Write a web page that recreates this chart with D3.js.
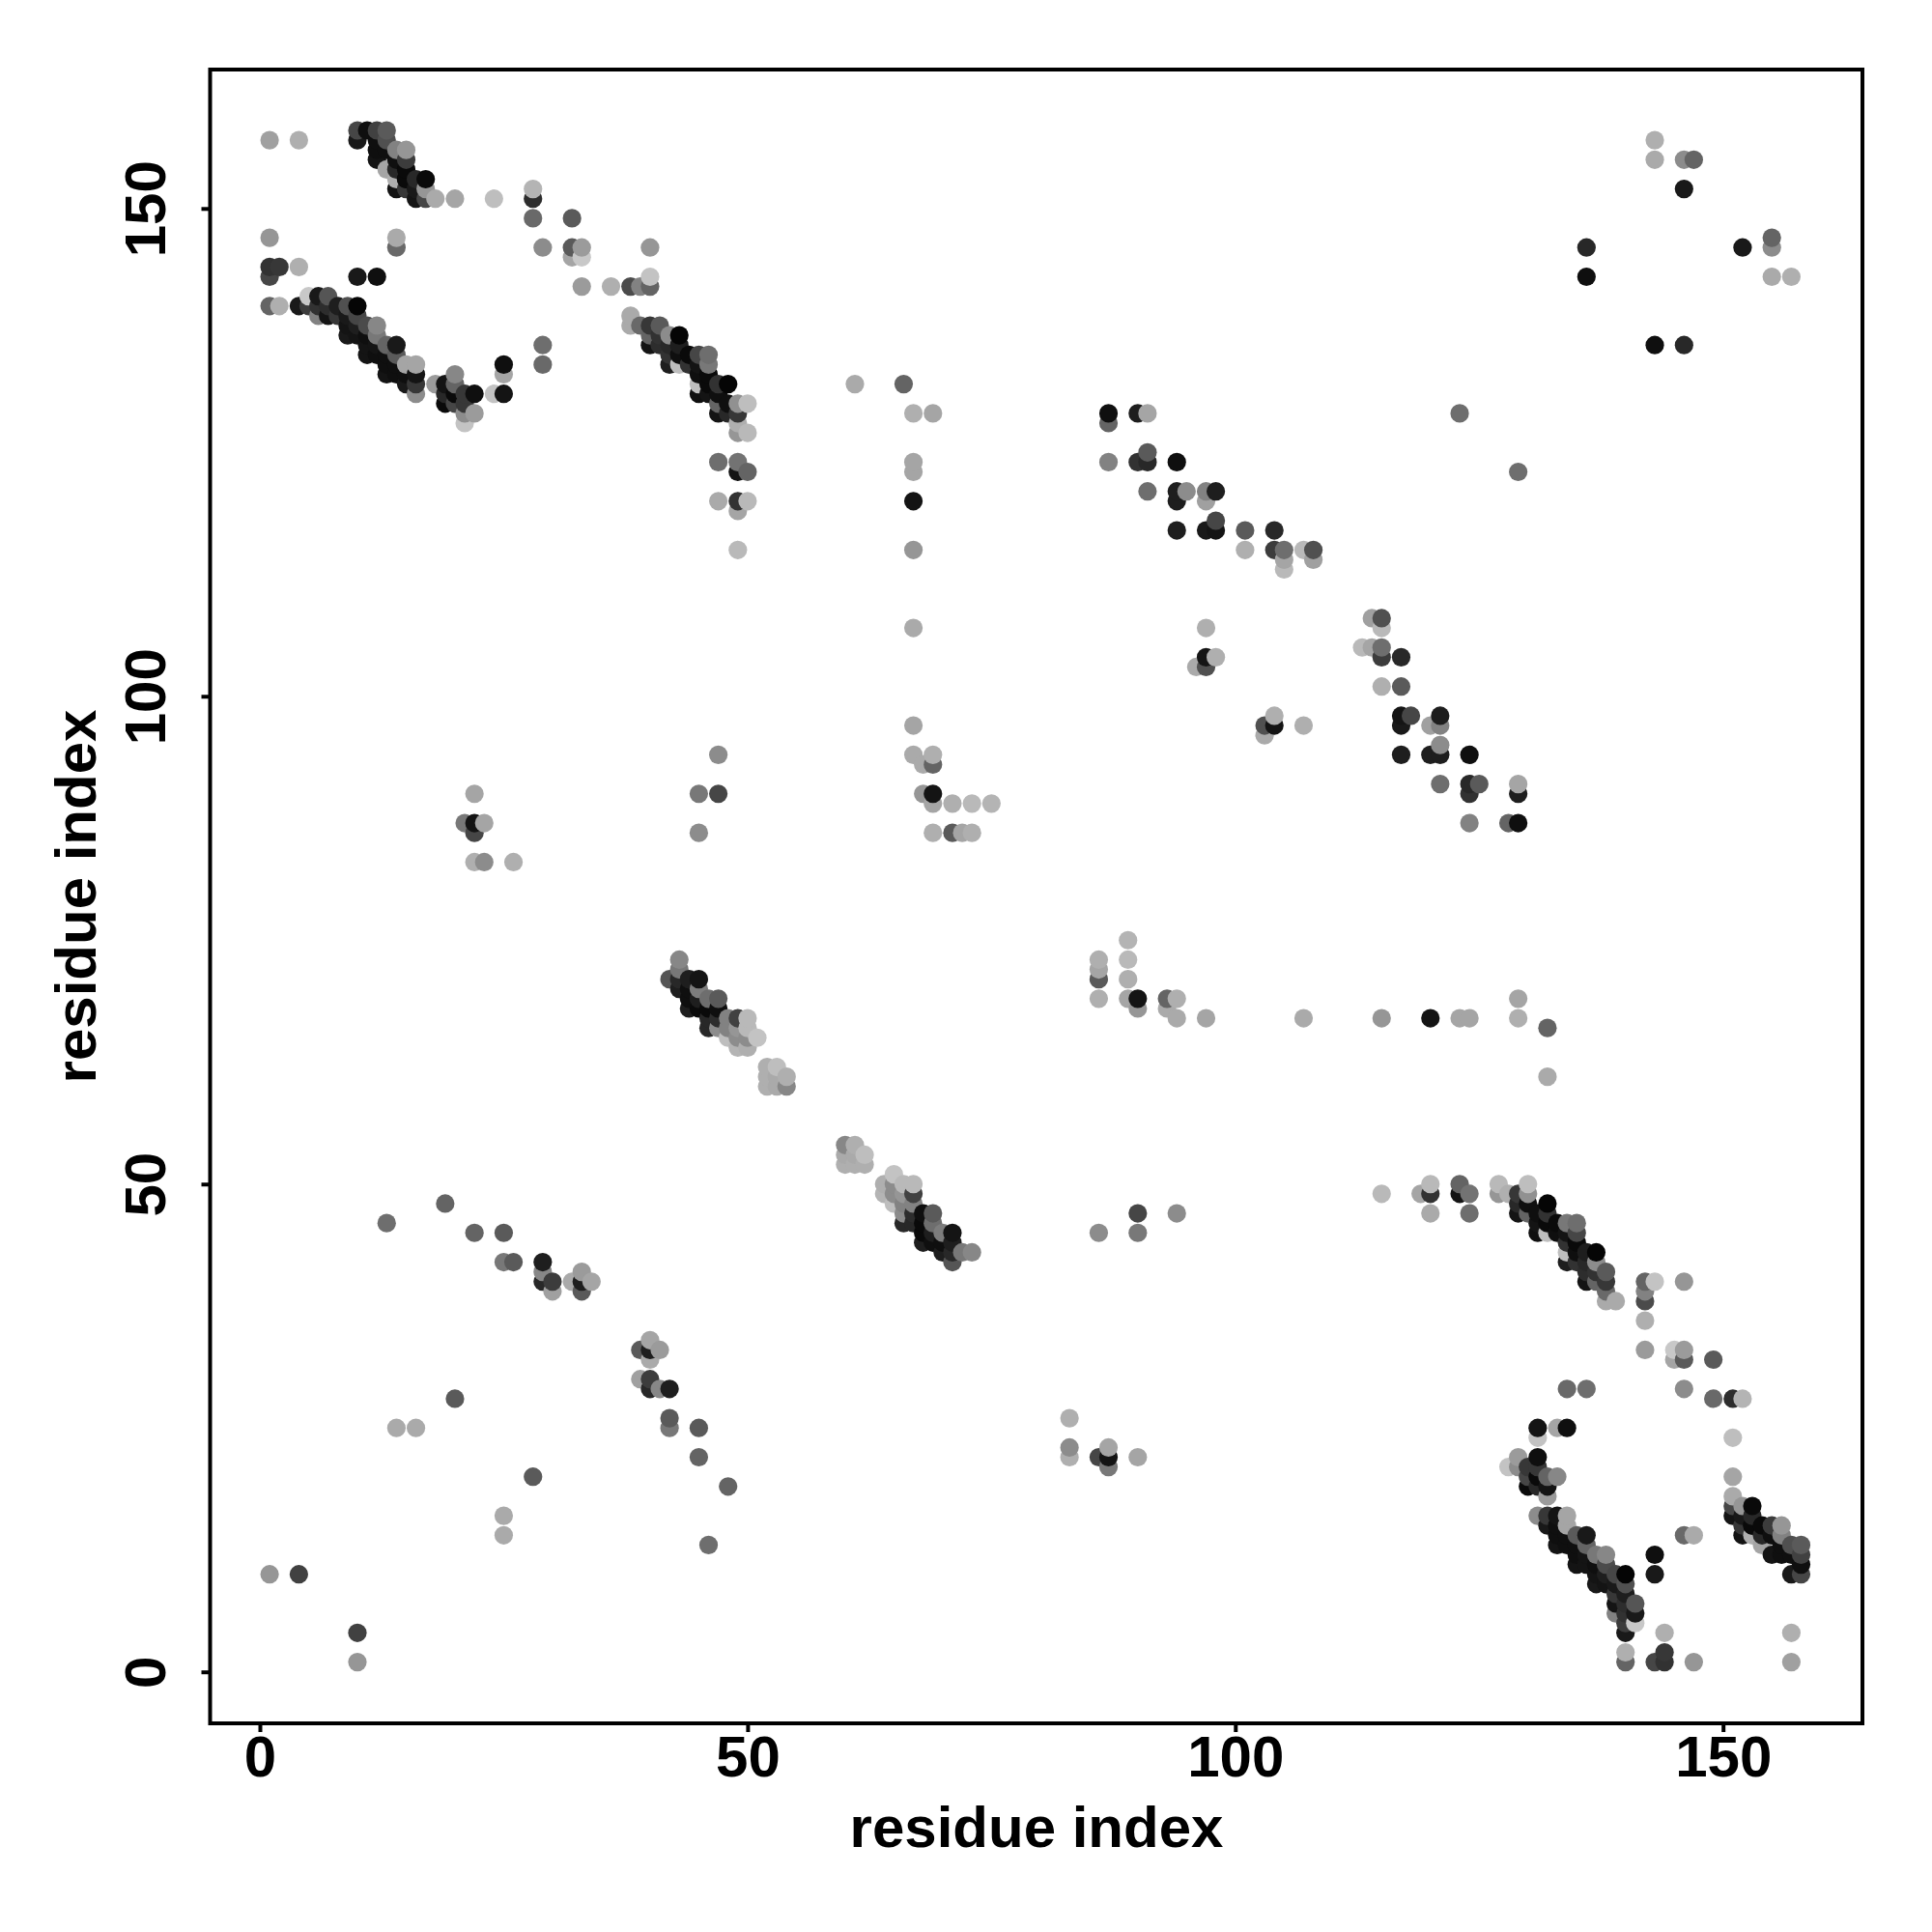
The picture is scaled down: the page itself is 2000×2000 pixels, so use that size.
<!DOCTYPE html>
<html><head><meta charset="utf-8">
<script src="https://cdn.jsdelivr.net/npm/d3@7"></script>
<style>html,body{margin:0;padding:0;background:#fff}svg{display:block}</style>
</head><body><div id="chart"></div>
<script>
const tickLabels = [0, 50, 100, 150];
const axisTitle = "residue index";
const contactI = [
1,1,1,1,1,1, 2,2, 4,4,4,4, 5,5, 6,6,6, 7,7,7, 8,8, 9,9,9,9, 10,10,10,10, 11,11,11,11, 12,12,12,12, 13,13,13,13, 14,14,14,14, 15,15,15, 16,16,16,16, 18,19,19,19, 20,20,20,20, 21,21,21,21, 22,22, 24,25,25,25,
10,10,11,12,13,12,12,12,13,13,13,14,15,14,15,14,15,14,14,15,15,15,16,17,17,16,16,17,18,20,24,28,28,28,32,
29,32,32,33,33,33,36,38,39,40,40,40,14,14,29,29,10,12,
38,38,39,40,40,40,41,41,41,42,42,43,42,42,43,43,43,44,44,45,46,46,45,45,45,45,46,46,46,47,48,47,47,47,48,48,49,50,49,49,49,50,47,49,49,50,47,49,50,49,49,
61,66,67,69,67,67,67,67,67,67,67,69,68,69,68,69,69,71,73,75,69,71,72,73,
45,47,47,45,21,22,22,22,23,22,23,26,
42,43,43,43,43,44,44,44,44,45,45,45,45,46,46,46,46,47,47,47,47,48,48,48,49,49,49,49,50,50,50,50,51,
52,53,52,53,54,52,53,54,
13,19,22,25,25,26,29,29,29,30,30,32,33,33,33,34,14,16,20,
87,87,90,91,87,90,91,91,94,91,94,95,94,94,97,97,98,98,97,98,101,104,101,104,105,105,105,107,108,108,123,
97,96,97,97,98,
136,136,143,143,146,147,146];
const contactJ = [
157,147,144,143,140,10, 144,140, 157,144,140,10, 141,140, 141,140,139, 141,140,139, 140,139, 140,139,138,137, 140,139,138,137, 138,137,136,135, 138,137,136,135, 136,135,134,133, 136,135,134,133, 134,133,132, 134,133,132,131, 132,132,131,130, 133,132,131,130, 131,130,129,128, 131,129, 131,134,133,131,
158,157,158,158,158,157,156,155,157,156,154,156,156,155,155,154,154,153,152,153,152,153,153,153,152,152,151,151,151,151,151,152,151,149,149,
146,146,145,146,145,142,142,142,142,142,143,146,147,146,136,134,143,143,
139,138,138,138,137,136,138,137,136,137,136,137,135,134,136,135,134,135,134,135,135,134,134,133,132,131,133,132,131,132,132,131,130,129,130,129,130,130,129,128,127,127,124,124,123,123,120,120,120,119,115,
132,132,129,129,124,123,120,115,107,97,94,94,93,93,90,90,89,89,89,89,86,86,86,86,
90,90,94,86,87,90,87,86,87,83,83,83,
71,73,72,71,70,71,70,69,68,71,70,69,68,69,68,67,66,69,68,67,66,67,66,65,67,66,65,64,67,66,65,64,65,
62,62,61,61,61,60,60,60,
46,48,45,45,42,42,42,41,40,40,39,40,40,41,39,40,25,25,28,
129,128,129,129,124,124,124,125,124,121,121,121,120,117,121,120,121,118,117,117,117,117,115,115,115,114,113,115,115,114,129,
107,103,103,104,104,
146,143,155,157,155,155,152];
const contactGray = [
160,150,50,70,100,150, 55,175, 175,175,25,65, 200,60, 25,50,130, 85,45,20, 30,55, 80,25,20,25, 5,70,30,20, 75,15,20,20, 135,120,20,15, 100,15,15,20, 25,90,15,15, 165,15,25, 165,20,55,140, 155,20,40,10, 135,100,10,70, 55,55,140,195, 15,155, 195,15,165,20,
70,25,15,65,90,15,15,20,80,15,165,130,150,15,60,40,10,175,20,10,55,10,40,10,150,25,20,70,170,165,190,180,45,105,90,
140,90,165,155,200,155,175,75,130,100,195,150,170,105,110,105,25,15,
170,170,105,55,100,20,90,50,45,140,40,5,50,30,30,15,190,10,50,70,110,120,20,15,190,15,10,10,20,50,5,15,100,20,15,40,145,190,55,175,150,185,110,115,20,100,170,50,185,165,185,
170,100,175,165,165,165,20,150,170,165,170,175,170,100,150,20,165,175,185,180,175,90,165,175,
120,70,140,140,120,165,20,70,165,175,140,175,
85,135,120,40,30,30,15,15,30,20,125,30,10,110,10,40,40,90,15,45,140,130,130,190,65,150,140,180,185,185,140,175,195,
175,190,175,170,175,175,170,135,
110,100,100,90,120,90,30,135,40,60,160,170,30,155,90,165,170,170,90,
15,100,30,165,130,50,40,90,15,110,30,140,30,30,130,160,30,70,25,20,90,40,175,60,110,165,185,185,80,160,110,
175,170,80,20,175,
40,15,170,175,140,100,25];

const W = 2000, H = 2000;
const m = {l: 217.5, r: 1928, t: 72, b: 1784};
const x = d3.scaleLinear().domain([0, 150]).range([269, 1783.7]);
const y = d3.scaleLinear().domain([0, 150]).range([1730.7, 215.8]);

// contact map is symmetric: every contact is drawn at (i,j) and (j,i), in column order
const pts = [];
contactI.forEach((i, k) => {
  pts.push({x: i, y: contactJ[k], g: contactGray[k]});
  pts.push({x: contactJ[k], y: i, g: contactGray[k]});
});
pts.sort((a, b) => d3.ascending(a.x, b.x) || d3.ascending(a.y, b.y));

const svg = d3.select("#chart").append("svg").attr("width", W).attr("height", H)
  .style("font-family", "'Liberation Sans', Arial, sans-serif");
svg.append("rect").attr("width", W).attr("height", H).attr("fill", "#fff");

svg.append("g").selectAll("circle").data(pts).join("circle")
  .attr("cx", d => x(d.x)).attr("cy", d => y(d.y)).attr("r", 9.6)
  .attr("fill", d => d3.rgb(d.g, d.g, d.g).formatHex());

svg.append("rect").attr("x", m.l).attr("y", m.t)
  .attr("width", m.r - m.l).attr("height", m.b - m.t)
  .attr("fill", "none").attr("stroke", "#000").attr("stroke-width", 4);

const gx = svg.append("g").attr("transform", `translate(0,${m.b})`)
  .call(d3.axisBottom(x).tickValues(tickLabels).tickSize(9).tickPadding(5).tickFormat(d3.format("d")));
const gy = svg.append("g").attr("transform", `translate(${m.l},0)`)
  .call(d3.axisLeft(y).tickValues(tickLabels).tickSize(9).tickFormat(d3.format("d")));
[gx, gy].forEach(g => {
  g.select(".domain").remove();
  g.selectAll("line").attr("stroke", "#000").attr("stroke-width", 4);
  g.selectAll("text").attr("fill", "#000").style("font-size", "60px").style("font-weight", "700");
});
gx.selectAll("text").attr("dy", null).attr("y", 55);
gy.selectAll("text").attr("x", null).attr("dy", null)
  .attr("text-anchor", "middle")
  .attr("transform", "translate(-47,0) rotate(-90)").attr("y", 0);

svg.append("text").attr("x", 1073).attr("y", 1912).attr("text-anchor", "middle")
  .style("font-size", "60px").style("font-weight", "700").text(axisTitle);
svg.append("text").attr("transform", "translate(99,928) rotate(-90)").attr("text-anchor", "middle")
  .style("font-size", "60px").style("font-weight", "700").text(axisTitle);

if (contactI.length !== contactJ.length || contactI.length !== contactGray.length) {
  svg.append("text").attr("x", 300).attr("y", 50).style("font-size","30px").text(`mismatch ${contactI.length} ${contactJ.length} ${contactGray.length}`);
}
</script></body></html>
